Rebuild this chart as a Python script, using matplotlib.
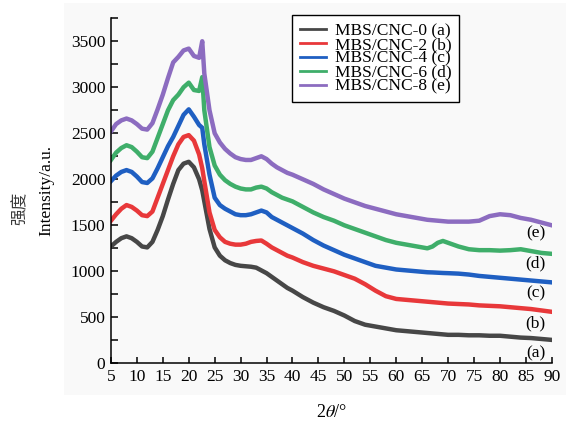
import matplotlib
matplotlib.use("Agg")
import matplotlib.pyplot as plt
from matplotlib.patches import Rectangle
from matplotlib.ticker import MultipleLocator

plt.rcParams["font.family"] = ["Liberation Serif", "Noto Sans CJK SC"]
plt.rcParams["mathtext.fontset"] = "stix"

# 2theta grid (deg) and intensities
two_theta = [5, 6, 7, 8, 9, 10, 11, 12, 13, 14, 15, 16, 17, 18, 19, 20, 21, 22, 22.6,
             23, 24, 25, 26, 27, 28, 29, 30, 31, 32, 33, 34, 35, 36, 37, 38, 39, 40,
             42, 44, 46, 48, 50, 52, 54, 56, 58, 60, 62, 64, 66,
             67, 68, 69, 70, 72, 74, 76, 78, 80, 82, 84, 86, 88, 90]

cnc_0 = [1270, 1320, 1360, 1380, 1360, 1320, 1270, 1260, 1320, 1450, 1600, 1780, 1950, 2100, 2170, 2190, 2130, 2000, 1880,
         1760, 1460, 1260, 1170, 1120, 1090, 1070, 1060, 1055, 1050, 1040, 1010, 980, 940, 900, 860, 820, 790,
         720, 660, 610, 570, 520, 460, 420, 400, 380, 360, 350, 340, 330,
         325, 320, 315, 310, 310, 305, 305, 300, 300, 290, 280, 275, 265, 255]
cnc_2 = [1550, 1620, 1680, 1720, 1700, 1660, 1610, 1600, 1650, 1800, 1950, 2100, 2250, 2380, 2460, 2480, 2420, 2270, 2120,
         1980, 1640, 1450, 1370, 1320, 1300, 1290, 1290, 1300, 1320, 1330, 1335, 1300, 1260, 1230, 1200, 1170, 1150,
         1100, 1060, 1030, 1000, 960, 920, 860, 790, 730, 700, 690, 680, 670,
         665, 660, 655, 650, 645, 640, 630, 625, 620, 610, 600, 590, 575, 560]
cnc_4 = [1980, 2040, 2080, 2100, 2080, 2030, 1970, 1960, 2010, 2120, 2240, 2360, 2460, 2580, 2700, 2760, 2680, 2590, 2560,
         2380, 2050, 1800, 1720, 1680, 1650, 1620, 1610, 1610, 1620, 1640, 1660, 1640, 1590, 1560, 1530, 1500, 1470,
         1410, 1340, 1280, 1230, 1180, 1140, 1100, 1060, 1040, 1020, 1010, 1000, 990,
         988, 985, 982, 980, 975, 965, 950, 940, 930, 920, 910, 900, 890, 880]
cnc_6 = [2210, 2290, 2340, 2370, 2350, 2300, 2240, 2230, 2300, 2450, 2600, 2750, 2860, 2920, 3000, 3050, 2970, 2960, 3110,
         2750, 2350, 2150, 2050, 1990, 1950, 1920, 1900, 1890, 1890, 1910, 1920, 1900, 1860, 1830, 1800, 1780, 1760,
         1700, 1640, 1590, 1550, 1500, 1460, 1420, 1380, 1340, 1310, 1290, 1270, 1250,
         1270, 1310, 1330, 1310, 1270, 1240, 1230, 1230, 1225, 1230, 1240, 1220, 1200, 1190]
cnc_8 = [2520, 2600, 2640, 2660, 2640, 2600, 2550, 2540, 2610, 2760, 2920, 3100, 3270, 3330, 3400, 3420, 3340, 3320, 3500,
         3150, 2750, 2500, 2400, 2330, 2280, 2240, 2220, 2210, 2210, 2230, 2250, 2220, 2170, 2130, 2100, 2070, 2050,
         2000, 1950, 1890, 1840, 1790, 1750, 1710, 1680, 1650, 1620, 1600, 1580, 1560,
         1555, 1550, 1545, 1540, 1540, 1540, 1550, 1600, 1620, 1610, 1580, 1560, 1530, 1500]

series = [cnc_0, cnc_2, cnc_4, cnc_6, cnc_8]
labels = ["MBS/CNC-0 (a)", "MBS/CNC-2 (b)", "MBS/CNC-4 (c)", "MBS/CNC-6 (d)", "MBS/CNC-8 (e)"]
tags = ["(a)", "(b)", "(c)", "(d)", "(e)"]
colors = ["#474747", "#e8383a", "#1f5fc2", "#3fae6a", "#8c6cc0"]

fig = plt.figure(figsize=(5.66, 4.24), dpi=100)
fig.patch.set_facecolor("white")
# light grey panel behind the plot, as in the scanned figure
fig.patches.append(Rectangle((0.113, 0.068), 0.887, 0.925, transform=fig.transFigure,
                             facecolor="#f9f9f9", edgecolor="none", zorder=-10))

ax = fig.add_axes([0.196, 0.143, 0.779, 0.814])
ax.set_facecolor("none")

for ys, lab, col in zip(series, labels, colors):
    ax.plot(two_theta, ys, color=col, lw=3.2, label=lab, solid_joinstyle="round")

# curve tags on the right
tag_y = [110, 435, 762, 1088, 1415]
for t, ty in zip(tags, tag_y):
    ax.text(86.9, ty, t, fontsize=12.5, ha="center", va="center")

ax.set_xlim(5, 90)
ax.set_ylim(0, 3750)
ax.xaxis.set_major_locator(MultipleLocator(5))
ax.yaxis.set_major_locator(MultipleLocator(500))
ax.yaxis.set_minor_locator(MultipleLocator(250))
ax.tick_params(axis="both", which="both", direction="in", width=1.1, labelsize=12.5)
ax.tick_params(axis="y", which="both", length=5, pad=4)
ax.tick_params(axis="x", which="major", length=4, pad=4)
for side in ["top", "right"]:
    ax.spines[side].set_visible(False)
for side in ["left", "bottom"]:
    ax.spines[side].set_linewidth(1.1)

ax.set_xlabel(r"2$\theta$/°", fontsize=13, labelpad=14)
ax.set_ylabel("Intensity/a.u.", fontsize=12.5, labelpad=12)
fig.text(20 / 566, 1 - 208 / 424, "强度", rotation=90, ha="center", va="center",
         fontsize=12, family=["Noto Sans CJK SC"], color="#3a3a3a")

leg = ax.legend(loc="upper left", bbox_to_anchor=(0.411, 1.009), fontsize=12.5,
                frameon=True, fancybox=False, edgecolor="black", framealpha=1,
                labelspacing=-0.13, handlelength=1.5, handletextpad=0.5,
                borderpad=0.45, borderaxespad=0)
leg.get_frame().set_linewidth(1.0)
for line in leg.get_lines():
    line.set_linewidth(2)

fig.savefig("out.png", dpi=100)
